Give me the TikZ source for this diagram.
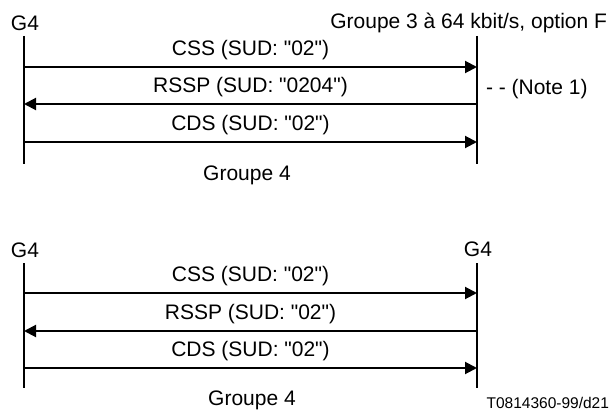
\documentclass[tikz,border=0pt]{standalone}
\usepackage{fontspec}
\setmainfont{Liberation Sans}[Ligatures=TeXOff]
\usetikzlibrary{arrows.meta}

\begin{document}
\begin{tikzpicture}[x=1pt,y=-1pt,line width=2pt,
  every node/.style={inner sep=0pt,font=\fontsize{21}{24}\selectfont},
  life/.style={draw=black},
  msg/.style={draw=black,-{Triangle[length=12pt,width=12pt]}},
  lbl/.style={midway,above=6pt}]
\useasboundingbox (0,0) rectangle (613,412);
% upper exchange
\node (hostA) at (25,23) {G4};
\node[anchor=east] (hostB) at (608,23) {Groupe 3 à 64 kbit/s, option F};
\coordinate (topA) at (24,36);
\coordinate (botA) at (24,164);
\coordinate (topB) at (477,36);
\coordinate (botB) at (477,164);
\draw[life] (topA) -- (botA);
\draw[life] (topB) -- (botB);
\coordinate (a1) at (24,67);  \coordinate (b1) at (477,67);
\coordinate (a2) at (24,104); \coordinate (b2) at (477,104);
\coordinate (a3) at (24,142); \coordinate (b3) at (477,142);
\draw[msg] (a1) -- (b1) node[lbl] {CSS (SUD: "02")};
\draw[msg] (b2) -- (a2) node[lbl] {RSSP (SUD: "0204")};
\draw[msg] (a3) -- (b3) node[lbl] {CDS (SUD: "02")};
\node[anchor=west] (note) at (485,89) {- - (Note 1)};
\node (modeA) at (247,175) {Groupe 4};
% lower exchange
\node (hostC) at (25,250) {G4};
\node (hostD) at (478,249) {G4};
\coordinate (topC) at (24,263);
\coordinate (botC) at (24,388);
\coordinate (topD) at (477,263);
\coordinate (botD) at (477,388);
\draw[life] (topC) -- (botC);
\draw[life] (topD) -- (botD);
\coordinate (c1) at (24,293);  \coordinate (d1) at (477,293);
\coordinate (c2) at (24,331);  \coordinate (d2) at (477,331);
\coordinate (c3) at (24,368);  \coordinate (d3) at (477,368);
\draw[msg] (c1) -- (d1) node[lbl] {CSS (SUD: "02")};
\draw[msg] (d2) -- (c2) node[lbl] {RSSP (SUD: "02")};
\draw[msg] (c3) -- (d3) node[lbl] {CDS (SUD: "02")};
\node (modeB) at (252,400) {Groupe 4};
\node[anchor=east,font=\fontsize{15.5}{18}\selectfont] (ref) at (610,403) {T0814360-99/d21};
\end{tikzpicture}
\end{document}
